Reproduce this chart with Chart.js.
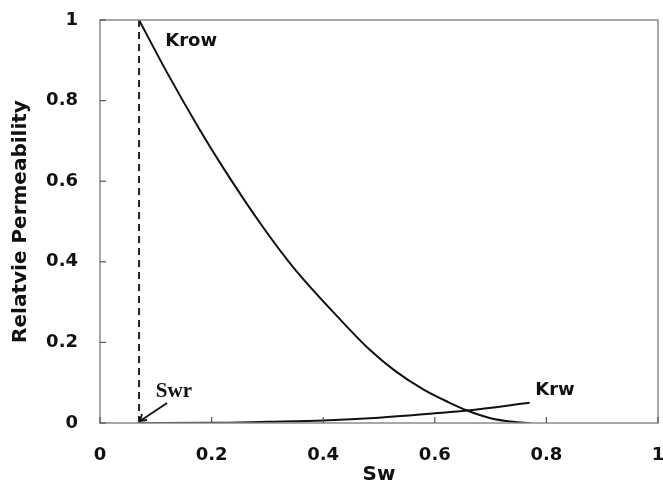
<!DOCTYPE html>
<html>
<head>
<meta charset="utf-8">
<script src="https://cdn.jsdelivr.net/npm/chart.js@4.4.0/dist/chart.umd.min.js"></script>
<style>
  html, body { margin: 0; padding: 0; background: #fff; }
  #wrap { width: 663px; height: 487px; }
</style>
</head>
<body>
<div id="wrap"><canvas id="myChart" width="663" height="487"></canvas></div>
<script>
// values
const krowSw = [0.07, 0.12, 0.179, 0.220, 0.290, 0.346, 0.427, 0.484, 0.530, 0.580, 0.624, 0.658, 0.700, 0.740, 0.770];
const krowVal = [1.0, 0.870, 0.727, 0.635, 0.490, 0.387, 0.262, 0.181, 0.128, 0.083, 0.052, 0.031, 0.012, 0.003, 0.0];
const krwSw = [0.07, 0.20, 0.30, 0.40, 0.50, 0.60, 0.658, 0.77];
const krwVal = [0.0, 0.0004, 0.003, 0.006, 0.013, 0.024, 0.031, 0.050];
const swr = 0.07;
const xTicks = [0, 0.2, 0.4, 0.6, 0.8, 1];
const yTicks = [0, 0.2, 0.4, 0.6, 0.8, 1];

const toPoints = (xs, ys) => xs.map((x, i) => ({ x: x, y: ys[i] }));

const boldFont = '"DejaVu Sans", "Open Sans", sans-serif';

// box, inner ticks, labels and the Swr arrow
const decorations = {
    id: 'decorations',
    afterDatasetsDraw(chart) {
        const c = chart.ctx;
        const a = chart.chartArea;
        const xs = chart.scales.x;
        const ys = chart.scales.y;
        c.save();
        c.strokeStyle = '#8a8a8a';
        c.lineWidth = 1.5;
        c.strokeRect(a.left, a.top, a.right - a.left, a.bottom - a.top);
        c.strokeStyle = '#555';
        c.lineWidth = 1.2;
        xTicks.forEach(t => {
            const px = xs.getPixelForValue(t);
            c.beginPath(); c.moveTo(px, a.bottom); c.lineTo(px, a.bottom - 6); c.stroke();
        });
        yTicks.forEach(t => {
            const py = ys.getPixelForValue(t);
            c.beginPath(); c.moveTo(a.left, py); c.lineTo(a.left + 6, py); c.stroke();
        });

        c.fillStyle = '#111';
        c.font = 'bold 18px ' + boldFont;
        c.textBaseline = 'middle';
        c.textAlign = 'left';
        c.fillText('Krow', xs.getPixelForValue(0.117), ys.getPixelForValue(0.947));
        c.fillText('Krw', xs.getPixelForValue(0.78), ys.getPixelForValue(0.082));
        c.font = 'bold 21px "Liberation Serif", "DejaVu Serif", serif';
        c.fillText('Swr', xs.getPixelForValue(0.1), ys.getPixelForValue(0.077));

        // arrow to Swr
        const x0 = xs.getPixelForValue(swr) + 1, y0 = ys.getPixelForValue(0) - 2;
        const x1 = x0 + 27, y1 = y0 - 18;
        c.strokeStyle = '#111';
        c.lineWidth = 1.8;
        c.beginPath(); c.moveTo(x1, y1); c.lineTo(x0, y0); c.stroke();
        c.beginPath();
        c.moveTo(x0 + 7, y0 - 1);
        c.lineTo(x0, y0);
        c.lineTo(x0 + 2, y0 - 7);
        c.stroke();
        c.restore();
    }
};

const ctx = document.getElementById('myChart').getContext('2d');
const myChart = new Chart(ctx, {
    type: 'scatter',
    data: {
        datasets: [
            {
                label: 'Krow',
                data: toPoints(krowSw, krowVal),
                showLine: true,
                borderColor: '#111',
                borderWidth: 2,
                pointRadius: 0,
                cubicInterpolationMode: 'monotone'
            },
            {
                label: 'Krw',
                data: toPoints(krwSw, krwVal),
                showLine: true,
                borderColor: '#111',
                borderWidth: 2,
                pointRadius: 0,
                cubicInterpolationMode: 'monotone'
            },
            {
                label: 'Swr',
                data: [{ x: swr, y: 0 }, { x: swr, y: 1 }],
                showLine: true,
                borderColor: '#222',
                borderWidth: 2,
                borderDash: [7, 5],
                pointRadius: 0
            }
        ]
    },
    options: {
        responsive: false,
        animation: false,
        layout: { padding: { top: 20, right: 5, left: 0, bottom: 0 } },
        plugins: {
            legend: { display: false },
            tooltip: { enabled: false }
        },
        scales: {
            x: {
                type: 'linear',
                min: 0,
                max: 1,
                afterFit: s => { s.height = 64; s.paddingLeft = 0; s.paddingRight = 0; },
                afterBuildTicks: s => { s.ticks = xTicks.map(v => ({ value: v })); },
                grid: { display: false, drawTicks: false },
                border: { display: false },
                ticks: {
                    padding: 22,
                    color: '#111',
                    font: { family: boldFont, size: 18, weight: 'bold' },
                    callback: v => String(v)
                },
                title: {
                    display: true,
                    text: 'Sw',
                    color: '#111',
                    padding: { top: 0, bottom: 0 },
                    font: { family: boldFont, size: 20, weight: 'bold' }
                }
            },
            y: {
                type: 'linear',
                min: 0,
                max: 1,
                afterFit: s => { s.width = 100; s.paddingTop = 0; s.paddingBottom = 0; },
                afterBuildTicks: s => { s.ticks = yTicks.map(v => ({ value: v })); },
                grid: { display: false, drawTicks: false },
                border: { display: false },
                ticks: {
                    padding: 22,
                    color: '#111',
                    font: { family: boldFont, size: 18, weight: 'bold' },
                    callback: v => String(v)
                },
                title: {
                    display: true,
                    text: 'Relatvie Permeability',
                    color: '#111',
                    padding: { top: 9, bottom: 0 },
                    font: { family: boldFont, size: 20, weight: 'bold' }
                }
            }
        }
    },
    plugins: [decorations]
});
</script>
</body>
</html>
